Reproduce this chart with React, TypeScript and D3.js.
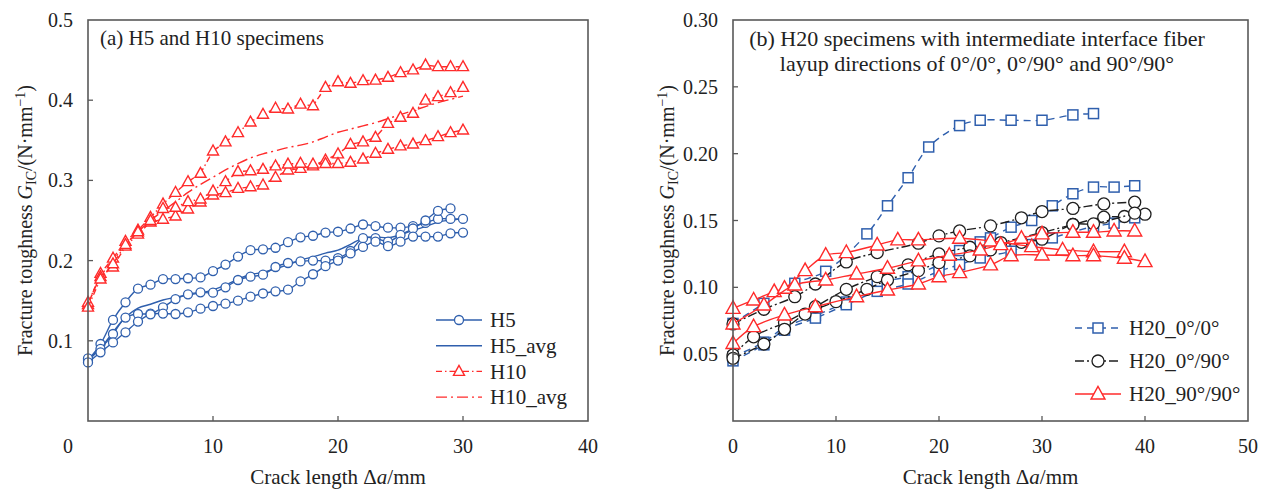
import React from 'react';
import * as d3 from 'd3';

// ---------------- DATA ----------------
// Panel (a): crack length Δa (mm)
const DA_H5A = [0,1,2,3,4,5,6,7,8,9,10,11,12,13,14,15,16,17,18,19,20,21,22,23,24,25,26,27,28,29,30];
const G_H5A = [0.076,0.096,0.126,0.148,0.165,0.170,0.177,0.177,0.178,0.179,0.187,0.195,0.205,0.213,0.214,0.216,0.223,0.229,0.231,0.235,0.236,0.240,0.245,0.243,0.241,0.241,0.243,0.247,0.252,0.252,0.252];
const DA_H5B = [0,1,2,3,4,5,6,7,8,9,10,11,12,13,14,15,16,17,18,19,20,21,22,23,24,25,26,27,28,29];
const G_H5B = [0.078,0.090,0.1085,0.129,0.1334,0.1338,0.1417,0.152,0.158,0.1604,0.160,0.1667,0.1758,0.180,0.1825,0.192,0.197,0.199,0.200,0.200,0.203,0.212,0.228,0.228,0.2236,0.232,0.240,0.250,0.262,0.265];
const DA_H5C = [0,1,2,3,4,5,6,7,8,9,10,11,12,13,14,15,16,17,18,19,20,21,22,23,24,25,26,27,28,29,30];
const G_H5C = [0.073,0.0856,0.098,0.1106,0.124,0.133,0.134,0.1334,0.1355,0.140,0.1434,0.1463,0.150,0.155,0.159,0.1617,0.1637,0.174,0.183,0.193,0.200,0.209,0.217,0.2236,0.218,0.2236,0.230,0.230,0.230,0.234,0.235];
const DA_H5AVG = [0,1,2,3,4,5,6,7,8,9,10,11,12,13,14,15,16,17,18,19,20,21,22,23,24,25,26,27,28,29,30];
const G_H5AVG = [0.0757,0.0905,0.1108,0.1292,0.1408,0.1456,0.1509,0.1541,0.1572,0.1598,0.1635,0.1693,0.1769,0.1827,0.1852,0.1899,0.1946,0.2007,0.2047,0.2093,0.213,0.2203,0.228,0.2295,0.2285,0.2322,0.2377,0.2423,0.248,0.2505,0.252];

const DA_H10A = [0,1,2,3,4,5,6,7,8,9,10,11,12,13,14,15,16,17,18,19,20,21,22,23,24,25,26,27,28,29,30];
const G_H10A = [0.145,0.184,0.203,0.224,0.238,0.254,0.2706,0.285,0.2984,0.3088,0.3367,0.348,0.3595,0.3728,0.3824,0.390,0.389,0.395,0.393,0.416,0.423,0.421,0.4243,0.425,0.4285,0.4343,0.4377,0.4439,0.4418,0.4418,0.4418];
const DA_H10B = [0,1,2,3,4,5,6,7,8,9,10,11,12,13,14,15,16,17,18,19,20,21,22,23,24,25,26,27,28,29,30];
const G_H10B = [0.148,0.180,0.192,0.218,0.233,0.248,0.2515,0.2556,0.2643,0.273,0.2818,0.2847,0.290,0.292,0.2943,0.3039,0.313,0.315,0.318,0.3254,0.333,0.345,0.348,0.3537,0.3711,0.3786,0.3836,0.400,0.4044,0.4094,0.416];
const DA_H10C = [0,1,2,3,4,5,6,7,8,9,10,11,12,13,14,15,16,17,18,19,20,21,22,23,24,25,26,27,28,29,30];
const G_H10C = [0.142,0.177,0.196,0.220,0.236,0.250,0.265,0.2664,0.2735,0.2768,0.2868,0.2984,0.311,0.312,0.3138,0.318,0.3204,0.3213,0.3204,0.321,0.321,0.3225,0.3267,0.3338,0.3387,0.343,0.3454,0.3495,0.3545,0.3595,0.3628];
const DA_H10AVG = [0,1,2,3,4,5,6,7,8,9,10,11,12,13,14,15,16,17,18,19,20,21,22,23,24,25,26,27,28,29,30];
const G_H10AVG = [0.145,0.180,0.200,0.220,0.236,0.250,0.262,0.273,0.285,0.295,0.304,0.313,0.321,0.328,0.333,0.337,0.341,0.344,0.348,0.354,0.360,0.364,0.368,0.372,0.377,0.382,0.387,0.392,0.397,0.401,0.405];

// Panel (b): H20 specimens
const DA_B1 = [0,3,6,9,13,15,17,19,22,24,27,30,33,35];
const G_B1 = [0.073,0.088,0.103,0.112,0.140,0.161,0.182,0.205,0.221,0.225,0.225,0.225,0.229,0.230];
const DA_B2 = [0,3,5,8,11,14,17,20,22,24,25,27,29,31,33,35,37,39];
const G_B2 = [0.048,0.059,0.070,0.079,0.089,0.103,0.108,0.117,0.1275,0.134,0.137,0.145,0.150,0.161,0.170,0.175,0.175,0.176];
const DA_B3 = [0,3,5,8,11,14,17,20,22,24,27,29,31,35,37,39];
const G_B3 = [0.045,0.057,0.068,0.077,0.087,0.097,0.1025,0.112,0.117,0.122,0.127,0.132,0.137,0.1455,0.148,0.152];

const DA_K1 = [0,3,6,8,11,14,18,20,22,25,28,30,33,36,39];
const G_K1 = [0.0726,0.0836,0.093,0.1025,0.119,0.126,0.133,0.1385,0.1422,0.146,0.152,0.1567,0.159,0.1624,0.1637];
const DA_K2 = [0,2,5,8,11,14,17,20,23,26,30,33,36,38,40];
const G_K2 = [0.0494,0.063,0.0736,0.0855,0.0985,0.108,0.1168,0.125,0.130,0.1335,0.141,0.147,0.1525,0.153,0.1547];
const DA_K3 = [0,3,5,7,10,13,15,18,20,23,25,28,30,33,35,39];
const G_K3 = [0.0469,0.0576,0.0686,0.080,0.0893,0.0985,0.1055,0.1125,0.1185,0.1235,0.128,0.1337,0.136,0.147,0.1475,0.1555];

const DA_R1 = [0,2,4,5,7,9,11,14,16,18,22,25,29,32,35,38];
const G_R1 = [0.0843,0.0905,0.0968,0.0993,0.1125,0.124,0.126,0.1317,0.1355,0.1355,0.1367,0.1347,0.1305,0.128,0.1267,0.1267];
const DA_R2 = [0,3,6,9,12,15,18,21,24,26,28,30,33,35,37,39];
const G_R2 = [0.0726,0.0868,0.1018,0.1055,0.110,0.1143,0.1198,0.124,0.128,0.132,0.1367,0.140,0.1412,0.1412,0.1422,0.1422];
const DA_R3 = [0,2,5,8,12,15,18,20,22,25,27,30,33,35,38,40];
const G_R3 = [0.058,0.0706,0.0793,0.0855,0.093,0.098,0.1025,0.108,0.111,0.1168,0.1237,0.1242,0.1237,0.1237,0.1218,0.1193];

// Ticks / labels
const A_XTICKS = [0, 10, 20, 30, 40];
const A_YTICKS = [0.1, 0.2, 0.3, 0.4, 0.5];
const B_XTICKS = [0, 10, 20, 30, 40, 50];
const B_YTICKS = [0.05, 0.1, 0.15, 0.2, 0.25, 0.3];
const A_LEGEND = ['H5', 'H5_avg', 'H10', 'H10_avg'];
const B_LEGEND = ['H20_0°/0°', 'H20_0°/90°', 'H20_90°/90°'];

// ---------------- STYLE ----------------
const FONT = "'Liberation Serif','Times New Roman',serif";
const BLUE = '#2F5FAD';
const RED = '#FF2B2B';
const BLACK = '#1E1E1E';
const AXIS = '#595959';
const FS = 21;
const FS_TICK = 20;
const FS_YT = 20;

type Shape = 'circle' | 'triangle' | 'square' | 'none';
interface Series { xs: number[]; ys: number[]; color: string; dash: string; shape: Shape; size: number; smooth: boolean; }

function Marker({ shape, x, y, size, color }: { shape: Shape; x: number; y: number; size: number; color: string }) {
  if (shape === 'circle') return <circle cx={x} cy={y} r={size / 2} fill="white" stroke={color} strokeWidth={1.3} />;
  if (shape === 'square') return <rect x={x - size / 2} y={y - size / 2} width={size} height={size} fill="white" stroke={color} strokeWidth={1.5} />;
  if (shape === 'triangle') {
    const h = size * 0.9;
    const p = `M${x},${y - h * 0.6}L${x - size / 2},${y + h * 0.4}L${x + size / 2},${y + h * 0.4}Z`;
    return <path d={p} fill="white" stroke={color} strokeWidth={1.4} strokeLinejoin="miter" />;
  }
  return null;
}

function SeriesView({ s, xs, ys }: { s: Series; xs: d3.ScaleLinear<number, number>; ys: d3.ScaleLinear<number, number> }) {
  const pts: [number, number][] = s.xs.map((v, i) => [xs(v), ys(s.ys[i])]);
  const line = d3.line().curve(s.smooth ? d3.curveCatmullRom.alpha(0.5) : d3.curveLinear)(pts) || '';
  return (
    <g>
      <path d={line} fill="none" stroke={s.color} strokeWidth={1.4} strokeDasharray={s.dash} />
      {s.shape !== 'none' && pts.map((p, i) => <Marker key={i} shape={s.shape} x={p[0]} y={p[1]} size={s.size} color={s.color} />)}
    </g>
  );
}

function YTitle({ x, y }: { x: number; y: number }) {
  return (
    <text transform={`translate(${x},${y}) rotate(-90)`} textAnchor="middle" fontSize={FS_YT} fontFamily={FONT} fill="#222">
      Fracture toughness <tspan fontStyle="italic">G</tspan>
      <tspan dy={4} fontSize={14}>IC</tspan>
      <tspan dy={-4}>/(N·mm</tspan>
      <tspan dy={-7} fontSize={14}>−1</tspan>
      <tspan dy={7}>)</tspan>
    </text>
  );
}

function XTitle({ x, y }: { x: number; y: number }) {
  return (
    <text x={x} y={y} textAnchor="middle" fontSize={FS} fontFamily={FONT} fill="#222">
      Crack length Δ<tspan fontStyle="italic">a</tspan>/mm
    </text>
  );
}

interface PanelProps {
  x0: number; x1: number; y0: number; y1: number;
  xDomain: [number, number]; yDomain: [number, number];
  xTicks: number[]; yTicks: number[]; yFmt: (v: number) => string;
  series: Series[];
  zeroOffset: number;
  yTitleX: number;
}

function Panel(p: PanelProps) {
  const xs = d3.scaleLinear().domain(p.xDomain).range([p.x0, p.x1]);
  const ys = d3.scaleLinear().domain(p.yDomain).range([p.y1, p.y0]);
  return (
    <g>
      {p.series.map((s, i) => <SeriesView key={i} s={s} xs={xs} ys={ys} />)}
      <rect x={p.x0} y={p.y0} width={p.x1 - p.x0} height={p.y1 - p.y0} fill="none" stroke={AXIS} strokeWidth={1.6} />
      {p.xTicks.map((t, i) => (
        <g key={'xt' + i}>
          {t > p.xDomain[0] && t < p.xDomain[1] && <line x1={xs(t)} x2={xs(t)} y1={p.y1} y2={p.y1 - 5} stroke={AXIS} strokeWidth={1.3} />}
          <text x={xs(t) + (t === 0 ? p.zeroOffset : 0)} y={p.y1 + 32} textAnchor="middle" fontSize={FS_TICK} fontFamily={FONT} fill="#222">{t}</text>
        </g>
      ))}
      {p.yTicks.map((t, i) => (
        <g key={'yt' + i}>
          {t < p.yDomain[1] - 1e-9 && <line x1={p.x0} x2={p.x0 + 5} y1={ys(t)} y2={ys(t)} stroke={AXIS} strokeWidth={1.3} />}
          <text x={p.x0 - 15} y={ys(t)} dy="0.35em" textAnchor="end" fontSize={FS_TICK} fontFamily={FONT} fill="#222">{p.yFmt(t)}</text>
        </g>
      ))}
      <XTitle x={(p.x0 + p.x1) / 2} y={p.y1 + 63} />
      <YTitle x={p.yTitleX} y={(p.y0 + p.y1) / 2} />
    </g>
  );
}

function LegendRow({ x, y, color, dash, shape, size, label }: { x: number; y: number; color: string; dash: string; shape: Shape; size: number; label: string }) {
  return (
    <g>
      <line x1={x} x2={x + 46} y1={y} y2={y} stroke={color} strokeWidth={1.4} strokeDasharray={dash} />
      {shape !== 'none' && <Marker shape={shape} x={x + 23} y={y} size={size} color={color} />}
      <text x={x + 54} y={y} dy="0.35em" fontSize={FS} fontFamily={FONT} fill="#222">{label}</text>
    </g>
  );
}

export default function App() {
  const D_H10 = '6,3,1.5,3';
  const D_H10AVG = '11,4,2,4';
  const D_BLUE = '7,5';
  const D_BLACK = '9,3,2,3';

  const seriesA: Series[] = [
    { xs: DA_H5AVG, ys: G_H5AVG, color: BLUE, dash: '', shape: 'none', size: 0, smooth: true },
    { xs: DA_H5A, ys: G_H5A, color: BLUE, dash: '', shape: 'circle', size: 9, smooth: true },
    { xs: DA_H5B, ys: G_H5B, color: BLUE, dash: '', shape: 'circle', size: 9, smooth: true },
    { xs: DA_H5C, ys: G_H5C, color: BLUE, dash: '', shape: 'circle', size: 9, smooth: true },
    { xs: DA_H10AVG, ys: G_H10AVG, color: RED, dash: D_H10AVG, shape: 'none', size: 0, smooth: true },
    { xs: DA_H10A, ys: G_H10A, color: RED, dash: D_H10, shape: 'triangle', size: 11, smooth: false },
    { xs: DA_H10B, ys: G_H10B, color: RED, dash: D_H10, shape: 'triangle', size: 11, smooth: false },
    { xs: DA_H10C, ys: G_H10C, color: RED, dash: D_H10, shape: 'triangle', size: 11, smooth: false },
  ];
  const seriesB: Series[] = [
    { xs: DA_B1, ys: G_B1, color: BLUE, dash: D_BLUE, shape: 'square', size: 10, smooth: true },
    { xs: DA_B2, ys: G_B2, color: BLUE, dash: D_BLUE, shape: 'square', size: 10, smooth: true },
    { xs: DA_B3, ys: G_B3, color: BLUE, dash: D_BLUE, shape: 'square', size: 10, smooth: true },
    { xs: DA_K1, ys: G_K1, color: BLACK, dash: D_BLACK, shape: 'circle', size: 12, smooth: true },
    { xs: DA_K2, ys: G_K2, color: BLACK, dash: D_BLACK, shape: 'circle', size: 12, smooth: true },
    { xs: DA_K3, ys: G_K3, color: BLACK, dash: D_BLACK, shape: 'circle', size: 12, smooth: true },
    { xs: DA_R1, ys: G_R1, color: RED, dash: '', shape: 'triangle', size: 14, smooth: true },
    { xs: DA_R2, ys: G_R2, color: RED, dash: '', shape: 'triangle', size: 14, smooth: true },
    { xs: DA_R3, ys: G_R3, color: RED, dash: '', shape: 'triangle', size: 14, smooth: true },
  ];

  const legA = [
    { color: BLUE, dash: '', shape: 'circle' as Shape, size: 9 },
    { color: BLUE, dash: '', shape: 'none' as Shape, size: 0 },
    { color: RED, dash: D_H10, shape: 'triangle' as Shape, size: 11 },
    { color: RED, dash: D_H10AVG, shape: 'none' as Shape, size: 0 },
  ];
  const legB = [
    { color: BLUE, dash: D_BLUE, shape: 'square' as Shape, size: 10 },
    { color: BLACK, dash: D_BLACK, shape: 'circle' as Shape, size: 12 },
    { color: RED, dash: '', shape: 'triangle' as Shape, size: 14 },
  ];

  return (
    <svg width={1270} height={492} style={{ position: 'absolute', left: 0, top: 0, background: 'white' }} fontFamily={FONT}>
      <rect width={1270} height={492} fill="white" />
      <Panel x0={88} x1={588} y0={20} y1={421} xDomain={[0, 40]} yDomain={[0, 0.5]}
        xTicks={A_XTICKS} yTicks={A_YTICKS} yFmt={(v) => v.toFixed(1)} series={seriesA} zeroOffset={-20} yTitleX={32} />
      <Panel x0={733} x1={1248} y0={20} y1={421} xDomain={[0, 50]} yDomain={[0, 0.3]}
        xTicks={B_XTICKS} yTicks={B_YTICKS} yFmt={(v) => v.toFixed(2)} series={seriesB} zeroOffset={0} yTitleX={674} />
      <text x={100} y={45} fontSize={FS} fontFamily={FONT} fill="#222">(a) H5 and H10 specimens</text>
      <text x={977} y={46} textAnchor="middle" fontSize={22} fontFamily={FONT} fill="#222">(b) H20 specimens with intermediate interface fiber</text>
      <text x={977} y={71} textAnchor="middle" fontSize={22} fontFamily={FONT} fill="#222">layup directions of 0°/0°, 0°/90° and 90°/90°</text>
      {A_LEGEND.map((l, i) => (
        <LegendRow key={l} x={436} y={320 + i * 25.7} {...legA[i]} label={l} />
      ))}
      {B_LEGEND.map((l, i) => (
        <LegendRow key={l} x={1075} y={328 + i * 33} {...legB[i]} label={l} />
      ))}
    </svg>
  );
}
